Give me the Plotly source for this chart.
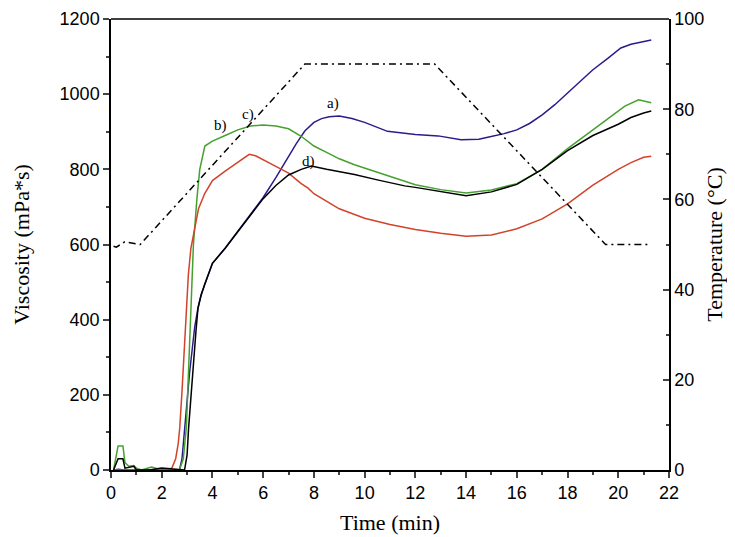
import plotly.graph_objects as go

# ---- data ----
t_a = [0.1, 0.3, 0.5, 1.0, 2.0, 2.7, 2.8, 2.9, 3.0, 3.1, 3.2, 3.3, 3.43, 3.55, 3.69, 4.0, 4.5, 5.0, 5.5, 6.0, 6.5, 7.0, 7.3, 7.64, 8.0, 8.3, 8.6, 9.0, 9.5, 10.0, 10.9, 12.0, 12.9, 13.8, 14.5, 14.9, 15.5, 16.0, 16.5, 17.0, 17.5, 18.0, 18.5, 19.0, 19.6, 20.1, 20.5, 21.0, 21.3]
v_a = [0, 2, 0, 0, 0, 0, 30, 112, 190, 260, 320, 380, 431, 465, 493, 550, 590, 635, 680, 725, 778, 835, 868, 902, 925, 935, 940, 942, 935, 925, 901, 893, 889, 879, 880, 886, 895, 905, 922, 945, 972, 1003, 1035, 1065, 1096, 1123, 1133, 1140, 1144]

t_b = [0.1, 0.28, 0.47, 0.55, 0.7, 0.9, 1.0, 1.2, 1.6, 2.0, 2.7, 2.85, 2.97, 3.05, 3.14, 3.25, 3.39, 3.5, 3.7, 4.0, 4.5, 5.0, 5.5, 6.0, 6.5, 7.0, 7.5, 8.0, 8.5, 9.0, 9.6, 10.0, 11.0, 12.0, 13.0, 14.0, 15.0, 16.0, 17.0, 18.0, 19.0, 19.6, 20.26, 20.8, 21.3]
v_b = [0, 64, 64, 20, 10, 12, 5, 0, 8, 0, 0, 30, 112, 260, 431, 600, 724, 800, 862, 875, 890, 905, 915, 918, 915, 908, 888, 862, 845, 828, 812, 803, 780, 759, 746, 737, 745, 762, 800, 855, 905, 935, 968, 985, 977]

t_c = [0.1, 1.0, 2.0, 2.4, 2.55, 2.65, 2.71, 2.8, 2.9, 2.97, 3.05, 3.15, 3.3, 3.45, 3.69, 4.0, 4.5, 5.0, 5.45, 5.7, 6.0, 6.5, 7.0, 7.5, 7.77, 8.0, 9.0, 10.0, 11.0, 12.0, 13.0, 14.0, 15.0, 16.0, 17.0, 18.0, 19.0, 20.0, 20.5, 21.0, 21.3]
v_c = [0, 0, 0, 5, 30, 70, 112, 210, 330, 431, 520, 590, 644, 695, 735, 770, 795, 818, 840, 836, 826, 808, 790, 762, 750, 735, 695, 670, 653, 640, 630, 622, 625, 642, 668, 708, 758, 800, 818, 832, 835]

t_d = [0.1, 0.28, 0.47, 0.55, 0.9, 1.0, 1.5, 2.0, 2.9, 3.0, 3.06, 3.15, 3.25, 3.35, 3.43, 3.55, 3.69, 4.0, 4.5, 5.0, 5.5, 6.0, 6.5, 7.0, 7.5, 7.9, 8.5, 9.6, 10.5, 11.58, 12.0, 13.0, 14.0, 15.0, 16.0, 17.0, 18.0, 19.0, 20.0, 20.5, 21.0, 21.3]
v_d = [0, 30, 30, 5, 10, 0, 0, 5, 0, 40, 112, 200, 290, 370, 431, 465, 493, 550, 590, 635, 680, 722, 757, 785, 800, 809, 800, 786, 772, 756, 752, 742, 730, 740, 760, 800, 850, 890, 920, 938, 950, 955]

t_temp = [0.1, 0.21, 0.54, 1.06, 1.15, 7.64, 12.76, 19.5, 21.3]
temp = [49.6, 49.4, 50.6, 50.0, 50.0, 90.0, 90.0, 50.0, 50.0]

labels = ["a)", "b)", "c)", "d)"]
label_t = [8.75, 4.3, 5.4, 7.77]
label_v = [976, 916, 945, 822]

# ---- figure ----
fig = go.Figure()
series = [(t_a, v_a, "#2a1c8c"), (t_b, v_b, "#45a12f"), (t_c, v_c, "#d2432a"), (t_d, v_d, "#000000")]
for t, v, c in series:
    fig.add_trace(go.Scatter(x=t, y=v, mode="lines", line=dict(color=c, width=1.5), showlegend=False))

fig.add_trace(go.Scatter(x=t_temp, y=temp, mode="lines", yaxis="y2",
                         line=dict(color="black", width=1.5, dash="7px,4px,2px,4px"), showlegend=False))

for lab, x, y in zip(labels, label_t, label_v):
    fig.add_annotation(x=x, y=y, text=lab, showarrow=False,
                       font=dict(family="Liberation Serif", size=15, color="black"))

tickfont = dict(family="Liberation Sans", size=18, color="black")
titlefont = dict(family="Liberation Serif", size=22, color="black")

fig.update_layout(
    width=735, height=537,
    margin=dict(l=103, r=74, t=11, b=75),
    plot_bgcolor="white", paper_bgcolor="white",
    xaxis=dict(range=[0, 22], dtick=2, tick0=0, ticks="outside", ticklen=6, tickwidth=1.5,
               minor=dict(dtick=1, ticks="outside", ticklen=3, tickwidth=1.5),
               showline=True, linecolor="black", linewidth=1.5, mirror=False,
               showgrid=False, zeroline=False, tickfont=tickfont, automargin=False,
               title=dict(text="Time (min)", font=titlefont, standoff=12)),
    yaxis=dict(range=[0, 1200], dtick=200, ticks="outside", ticklen=6, tickwidth=1.5,
               minor=dict(dtick=100, ticks="outside", ticklen=3, tickwidth=1.5),
               showline=True, linecolor="black", linewidth=1.5,
               showgrid=False, zeroline=False, tickfont=tickfont, automargin=False,
               title=dict(text="Viscosity (mPa*s)", font=titlefont, standoff=24)),
    yaxis2=dict(range=[0, 100], dtick=20, overlaying="y", side="right",
                ticks="inside", ticklen=6, tickwidth=1.5,
                minor=dict(dtick=10, ticks="inside", ticklen=3, tickwidth=1.5),
                showline=True, linecolor="black", linewidth=1.5,
                showgrid=False, zeroline=False, tickfont=tickfont, automargin=False,
                title=dict(text="Temperature (°C)", font=titlefont, standoff=3)),
    shapes=[dict(type="line", xref="paper", yref="paper", x0=0, x1=1, y0=1, y1=1,
                 line=dict(color="black", width=1.5))],
)

fig.write_html("out.html")
